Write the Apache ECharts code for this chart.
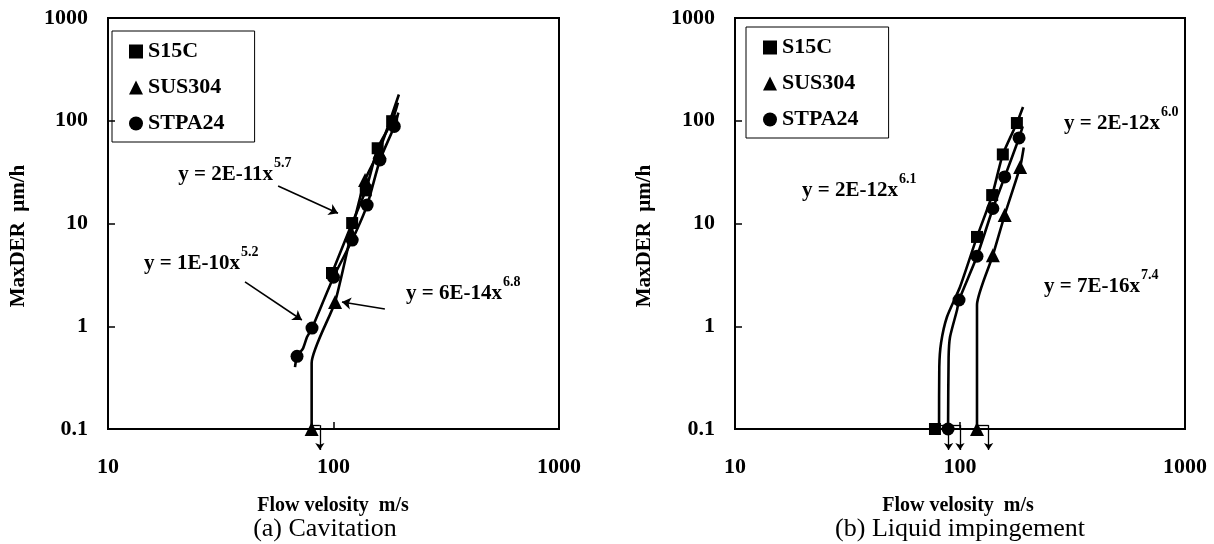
<!DOCTYPE html>
<html>
<head>
<meta charset="utf-8">
<script src="https://cdn.jsdelivr.net/npm/echarts@6/dist/echarts.min.js"></script>
<style>html,body{margin:0;padding:0;background:#fff;}#c{width:1214px;height:544px;}</style>
</head>
<body>
<div id="c"></div>
<script>
// ---------- data ----------
const seriesNames = ['S15C', 'SUS304', 'STPA24'];
const xTickLabels = ['10', '100', '1000'];
const yTickLabels = ['0.1', '1', '10', '100', '1000'];

// (a) Cavitation : measured points [velocity m/s, MaxDER um/h]
const cavS15C   = [[98.5, 3.3], [121, 10.1], [139, 21], [157, 54], [182, 99]];
const cavSUS304 = [[80, 0.1], [101.6, 1.72], [120, 8.1], [138, 26.5], [160, 50]];
const cavSTPA24 = [[68.9, 0.51], [80.3, 0.96], [100, 3.0], [121, 6.9], [141, 15.1], [160.7, 41.5], [186, 88]];
// (a) fitted curves
const cavFitS15C   = [[97, 3.0], [98.5, 3.3], [121, 10.1], [139, 21], [157, 54], [182, 99], [193, 150]];
const cavFitSUS304 = [[80, 0.1], [80, 0.44], [101.6, 1.72], [120, 8.1], [138, 26.5], [160, 52], [195, 180]];
const cavFitSTPA24 = [[67.5, 0.40], [68.9, 0.51], [73.3, 0.61], [76.3, 0.785], [80.3, 0.96], [100, 3.0], [121, 6.9], [141, 15.1], [160.7, 41.5], [186, 88], [194, 120]];

// (b) Liquid impingement : measured points
const liqS15C   = [[77.4, 0.1], [119, 7.4], [139, 18.9], [155, 47], [179, 95]];
const liqSUS304 = [[119, 0.1], [140, 4.9], [158, 12.1], [185, 35.5]];
const liqSTPA24 = [[88.5, 0.1], [99, 1.8], [119, 4.8], [140, 14], [158, 28.4], [183, 68]];
// (b) fitted curves
const liqFitS15C   = [[80.7, 0.1], [80.9, 0.4], [82.4, 0.69], [87.5, 1.23], [100, 2.41], [119, 7.4], [139, 18.9], [155, 47], [179, 95], [190.6, 136]];
const liqFitSUS304 = [[119, 0.1], [119, 1.61], [140, 4.9], [158, 12.1], [185, 35.5], [192, 55]];
const liqFitSTPA24 = [[88.5, 0.1], [89, 0.5], [90.3, 0.785], [97, 1.44], [99, 1.8], [119, 4.8], [140, 14], [158, 28.4], [183, 68], [190, 88]];

// detection-limit arrows (below 0.1)
const cavLimitArrows = [[[80, 0.109], [87, 0.109], [87, 0.0625]]];
const liqLimitArrows = [
  [[77.4, 0.109], [89, 0.109], [89, 0.0625]],
  [[88.5, 0.109], [100, 0.109], [100, 0.0625]],
  [[119, 0.109], [134, 0.109], [134, 0.0625]]
];
// annotation arrows (a)
const cavNoteArrows = [
  [[56.8, 23.2], [104.7, 12.6]],
  [[40.5, 2.7], [72.4, 1.15]],
  [[169, 1.47], [109, 1.72]]
];
// equation labels
const cavEquations = [['y = 2E-11x', '5.7'], ['y = 1E-10x', '5.2'], ['y = 6E-14x', '6.8']];
const liqEquations = [['y = 2E-12x', '6.1'], ['y = 2E-12x', '6.0'], ['y = 7E-16x', '7.4']];

// ---------- chart ----------
const FONT = 'Liberation Serif';
const chart = echarts.init(document.getElementById('c'), null, {renderer: 'canvas'});

const symbols = ['rect', 'triangle', 'circle'];
const symSizes = [12, 14, 13];

function xAxisOpt(gi) {
  return {
    gridIndex: gi, type: 'log', logBase: 10, min: 10, max: 1000,
    axisLine: {show: true, lineStyle: {color: '#000', width: 2}},
    axisTick: {show: true, inside: true, length: 7, lineStyle: {color: '#000', width: 1.5}},
    axisLabel: {margin: 27, color: '#000', fontFamily: FONT, fontWeight: 'bold', fontSize: 22,
      formatter: v => xTickLabels[Math.round(Math.log10(v)) - 1]},
    splitLine: {show: false}
  };
}
function yAxisOpt(gi) {
  return {
    gridIndex: gi, type: 'log', logBase: 10, min: 0.1, max: 1000,
    axisLine: {show: true, lineStyle: {color: '#000', width: 2}},
    axisTick: {show: true, inside: true, length: 7, lineStyle: {color: '#000', width: 1.5}},
    axisLabel: {margin: 20, color: '#000', fontFamily: FONT, fontWeight: 'bold', fontSize: 22,
      formatter: v => yTickLabels[Math.round(Math.log10(v)) + 1]},
    splitLine: {show: false}
  };
}

const series = [];
function arrowSeries(gi, segs, width, size) {
  return {
    type: 'lines', coordinateSystem: 'cartesian2d', xAxisIndex: gi, yAxisIndex: gi,
    clip: false, silent: true, symbol: ['none', 'arrow'], symbolSize: size,
    lineStyle: {color: '#000', width: width, opacity: 1},
    data: segs.map(c => ({coords: c})), z: 4
  };
}
function plainSeries(gi, segs, width) {
  return {
    type: 'lines', coordinateSystem: 'cartesian2d', xAxisIndex: gi, yAxisIndex: gi,
    clip: false, silent: true, symbol: ['none', 'none'],
    lineStyle: {color: '#000', width: width, opacity: 1},
    data: segs.map(c => ({coords: c})), z: 4
  };
}
function addPanel(gi, pts, fits, limits) {
  pts.forEach((d, i) => {
    series.push({
      name: seriesNames[i], type: 'scatter', xAxisIndex: gi, yAxisIndex: gi,
      data: d, symbol: symbols[i], symbolSize: symSizes[i],
      itemStyle: {color: '#000', opacity: 1}, z: 5, clip: false
    });
  });
  fits.forEach((d, i) => {
    series.push({
      name: seriesNames[i] + ' fit', type: 'line', xAxisIndex: gi, yAxisIndex: gi,
      data: d, showSymbol: false, symbol: 'none', smooth: 0.2,
      lineStyle: {color: '#000', width: 2.6}, z: 3, silent: true
    });
  });
  // limit arrows: horizontal part, then downward arrow
  series.push(plainSeries(gi, limits.map(p => [p[0], p[1]]), 1.3));
  series.push(arrowSeries(gi, limits.map(p => [p[1], p[2]]), 1.3, 7));
}
addPanel(0, [cavS15C, cavSUS304, cavSTPA24], [cavFitS15C, cavFitSUS304, cavFitSTPA24], cavLimitArrows);
addPanel(1, [liqS15C, liqSUS304, liqSTPA24], [liqFitS15C, liqFitSUS304, liqFitSTPA24], liqLimitArrows);
series.push(arrowSeries(0, cavNoteArrows, 1.6, 9));

function legendOpt(left, top) {
  return {
    left: left, top: top, orient: 'vertical', data: seriesNames,
    itemWidth: 14, itemHeight: 14, itemGap: 13,
    padding: [9, 30, 7, 17],
    borderColor: '#000', borderWidth: 1, borderRadius: 0,
    selectedMode: false,
    itemStyle: {color: '#000', opacity: 1},
    textStyle: {color: '#000', fontFamily: FONT, fontWeight: 'bold', fontSize: 22, lineHeight: 23}
  };
}

const eqPos = {
  cav: [[273, 175], [240, 264], [502, 294]],
  liq: [[898, 191], [1160, 124], [1140, 287]]
};
const graphics = [];
function addEq(list, pos) {
  list.forEach((e, i) => {
    graphics.push({type: 'text', x: pos[i][0], y: pos[i][1], style: {
      text: e[0], fill: '#000', font: 'bold 21px "' + FONT + '"', align: 'right', verticalAlign: 'middle'}});
    graphics.push({type: 'text', x: pos[i][0] + 1, y: pos[i][1] - 12, style: {
      text: e[1], fill: '#000', font: 'bold 14px "' + FONT + '"', align: 'left', verticalAlign: 'middle'}});
  });
}
addEq(cavEquations, eqPos.cav);
addEq(liqEquations, eqPos.liq);

function label(txt, x, y, font, rot) {
  graphics.push({type: 'text', x: x, y: y, rotation: rot || 0, style: {
    text: txt, fill: '#000', font: font, align: 'center', verticalAlign: 'middle'}});
}
label('Flow velosity  m/s', 333, 506, 'bold 20px "' + FONT + '"');
label('Flow velosity  m/s', 958, 506, 'bold 20px "' + FONT + '"');
label('MaxDER  μm/h', 19, 236, 'bold 21px "' + FONT + '"', Math.PI / 2);
label('MaxDER  μm/h', 645, 236, 'bold 21px "' + FONT + '"', Math.PI / 2);
label('(a) Cavitation', 325, 529, '26px "' + FONT + '"');
label('(b) Liquid impingement', 960, 529, '26px "' + FONT + '"');

chart.setOption({
  animation: false,
  backgroundColor: '#fff',
  grid: [
    {left: 108, top: 18, width: 451, height: 411, show: true, borderColor: '#000', borderWidth: 2, backgroundColor: 'transparent'},
    {left: 735, top: 18, width: 450, height: 411, show: true, borderColor: '#000', borderWidth: 2, backgroundColor: 'transparent'}
  ],
  xAxis: [xAxisOpt(0), xAxisOpt(1)],
  yAxis: [yAxisOpt(0), yAxisOpt(1)],
  legend: [legendOpt(112, 31), legendOpt(746, 27)],
  series: series,
  graphic: graphics
});
</script>
</body>
</html>
